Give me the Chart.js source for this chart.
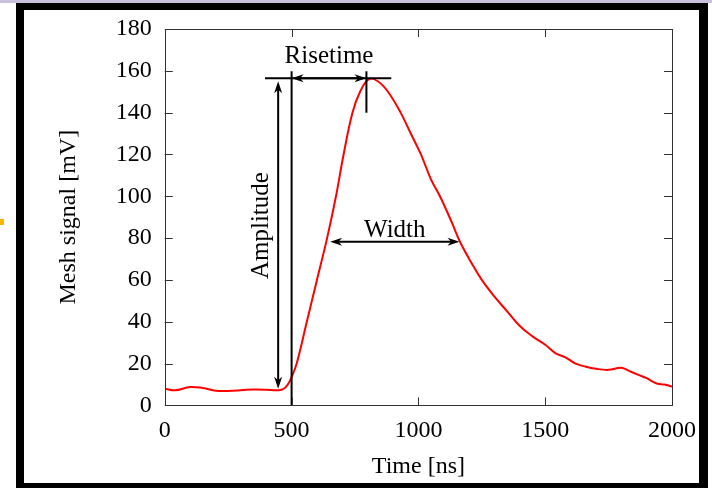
<!DOCTYPE html>
<html>
<head>
<meta charset="utf-8">
<script src="https://cdn.jsdelivr.net/npm/chart.js@4"></script>
<style>
  html, body { margin: 0; padding: 0; background: #fff; }
  #page { position: relative; width: 712px; height: 488px; overflow: hidden; }
  #strip { position: absolute; left: 0; top: 0; width: 712px; height: 3px; background: #c9c1dc; }
  #dash { position: absolute; left: 0; top: 219px; width: 4px; height: 6px; background: #f7b500; }
  #frame { position: absolute; left: 16px; top: 3px; width: 675px; height: 473px;
           border-style: solid; border-color: #000; border-width: 7px 9px 5px 8px; z-index: 2; }
  #wrap { position: absolute; left: 0; top: 0; width: 712px; height: 488px; z-index: 1; }
  canvas { display: block; }
</style>
</head>
<body>
<div id="page">
  <div id="strip"></div>
  <div id="dash"></div>
  <div id="wrap"><canvas id="chart1" width="712" height="488"></canvas></div>
  <div id="frame"></div>
</div>
<script>
// signal
const timeNs = [0, 40, 100, 150, 210, 300, 350, 400, 440, 460, 475, 490, 500, 520, 560, 600, 640, 675, 705, 740, 770, 805,
  840, 880, 930, 970, 1010, 1050, 1085, 1130, 1165, 1210, 1250, 1300, 1350, 1400, 1450, 1500, 1540, 1580, 1620, 1660,
  1700, 1750, 1800, 1830, 1870, 1900, 1940, 1970, 2000];
const meshMV = [8, 7.2, 8.8, 8.3, 6.9, 7.3, 7.6, 7.5, 7.2, 7.5, 8.5, 11, 13.5, 20, 40, 60, 80, 100, 120, 140, 150, 156,
  155, 150, 140, 130, 120, 108, 100, 88, 78, 68, 60, 52, 45, 38, 33, 29, 25, 23, 20, 18.5,
  17.5, 17, 18, 16.5, 14.5, 13, 10.5, 10, 9];

// annotation positions in data units
const peakLevel = 156.5;
const levelLine = [395, 893];      // horizontal line at the peak level
const startTime = 500;             // vertical line at signal start
const peakTime = 795;              // short tick at the peak
const ampArrow = { t: 447, from: 8, to: 155 };
const widthArrow = { v: 78.3, from: 652, to: 1162 };

const serif = "'Liberation Serif', 'DejaVu Serif', serif";

function arrowHead(c, x, y, dx, dy) {
  // filled head pointing in direction (dx,dy), tip at x,y
  const len = 12, half = 4;
  const px = -dy, py = dx;
  c.beginPath();
  c.moveTo(x, y);
  c.lineTo(x - dx * len + px * half, y - dy * len + py * half);
  c.lineTo(x - dx * len * 0.7, y - dy * len * 0.7);
  c.lineTo(x - dx * len - px * half, y - dy * len - py * half);
  c.closePath();
  c.fill();
}

const frame = {
  id: 'frame',
  afterDraw(chart) {
    const c = chart.ctx, a = chart.chartArea;
    const xs = chart.scales.x, ys = chart.scales.y;
    c.save();
    c.strokeStyle = '#333';
    c.lineWidth = 1;
    c.strokeRect(Math.round(a.left) + 0.5, Math.round(a.top) + 0.5, Math.round(a.right - a.left), Math.round(a.bottom - a.top));
    c.beginPath();
    xs.ticks.forEach(t => {
      const px = Math.round(xs.getPixelForValue(t.value)) + 0.5;
      c.moveTo(px, a.bottom); c.lineTo(px, a.bottom - 8);
      c.moveTo(px, a.top); c.lineTo(px, a.top + 8);
    });
    ys.ticks.forEach(t => {
      const py = Math.round(ys.getPixelForValue(t.value)) + 0.5;
      c.moveTo(a.left, py); c.lineTo(a.left + 8, py);
      c.moveTo(a.right, py); c.lineTo(a.right - 8, py);
    });
    c.stroke();
    c.restore();
  }
};

const notes = {
  id: 'notes',
  afterDatasetsDraw(chart) {
    const c = chart.ctx, a = chart.chartArea;
    const X = v => chart.scales.x.getPixelForValue(v);
    const Y = v => chart.scales.y.getPixelForValue(v);
    c.save();
    c.strokeStyle = '#000';
    c.fillStyle = '#000';
    c.lineWidth = 2;
    const yPeak = Y(peakLevel);
    c.beginPath();
    c.moveTo(X(levelLine[0]), yPeak); c.lineTo(X(levelLine[1]), yPeak);
    c.moveTo(X(startTime), a.bottom); c.lineTo(X(startTime), yPeak - 7);
    c.moveTo(X(peakTime), yPeak - 7); c.lineTo(X(peakTime), Y(140));
    c.stroke();

    // amplitude
    const xa = X(ampArrow.t);
    c.beginPath();
    c.moveTo(xa, Y(ampArrow.from) - 6); c.lineTo(xa, Y(ampArrow.to) + 6);
    c.stroke();
    arrowHead(c, xa, Y(ampArrow.to), 0, -1);
    arrowHead(c, xa, Y(ampArrow.from), 0, 1);

    // risetime
    c.beginPath();
    c.moveTo(X(startTime) + 6, yPeak); c.lineTo(X(peakTime) - 6, yPeak);
    c.stroke();
    arrowHead(c, X(startTime), yPeak, -1, 0);
    arrowHead(c, X(peakTime), yPeak, 1, 0);

    // width
    const yw = Y(widthArrow.v);
    c.beginPath();
    c.moveTo(X(widthArrow.from) + 6, yw); c.lineTo(X(widthArrow.to) - 6, yw);
    c.stroke();
    arrowHead(c, X(widthArrow.from), yw, -1, 0);
    arrowHead(c, X(widthArrow.to), yw, 1, 0);

    c.font = "25px " + serif;
    c.textAlign = 'center';
    c.textBaseline = 'middle';
    c.fillText('Risetime', (X(startTime) + X(peakTime)) / 2, yPeak - 22);
    c.fillText('Width', (X(widthArrow.from) + X(widthArrow.to)) / 2, yw - 11);
    c.translate(xa - 17, Y(86));
    c.rotate(-Math.PI / 2);
    c.fillText('Amplitude', 0, 0);
    c.restore();
  }
};

const ctx = document.getElementById('chart1');
new Chart(ctx, {
  type: 'line',
  data: {
    datasets: [{
      data: timeNs.map((t, i) => ({ x: t, y: meshMV[i] })),
      borderColor: '#ff0000',
      borderWidth: 2,
      pointRadius: 0,
      tension: 0.4,
      fill: false
    }]
  },
  options: {
    responsive: false,
    animation: false,
    devicePixelRatio: 1,
    layout: { padding: { left: 54, top: 29, right: 40, bottom: 7 } },
    plugins: { legend: { display: false }, tooltip: { enabled: false } },
    scales: {
      x: {
        type: 'linear', min: 0, max: 2000,
        grid: { display: false, drawTicks: false },
        border: { display: false },
        ticks: { stepSize: 500, color: '#000', padding: 11, maxRotation: 0, callback: v => String(v), font: { family: serif, size: 24 } },
        title: { display: true, text: 'Time [ns]', color: '#000', padding: { top: -4, bottom: 0 }, font: { family: serif, size: 24 } }
      },
      y: {
        min: 0, max: 180,
        grid: { display: false, drawTicks: false },
        border: { display: false },
        ticks: { stepSize: 20, color: '#000', padding: 13, callback: v => String(v), font: { family: serif, size: 24 } },
        title: { display: true, text: 'Mesh signal [mV]', color: '#000', padding: { top: 0, bottom: 20 }, font: { family: serif, size: 24 } }
      }
    }
  },
  plugins: [frame, notes]
});
</script>
</body>
</html>
